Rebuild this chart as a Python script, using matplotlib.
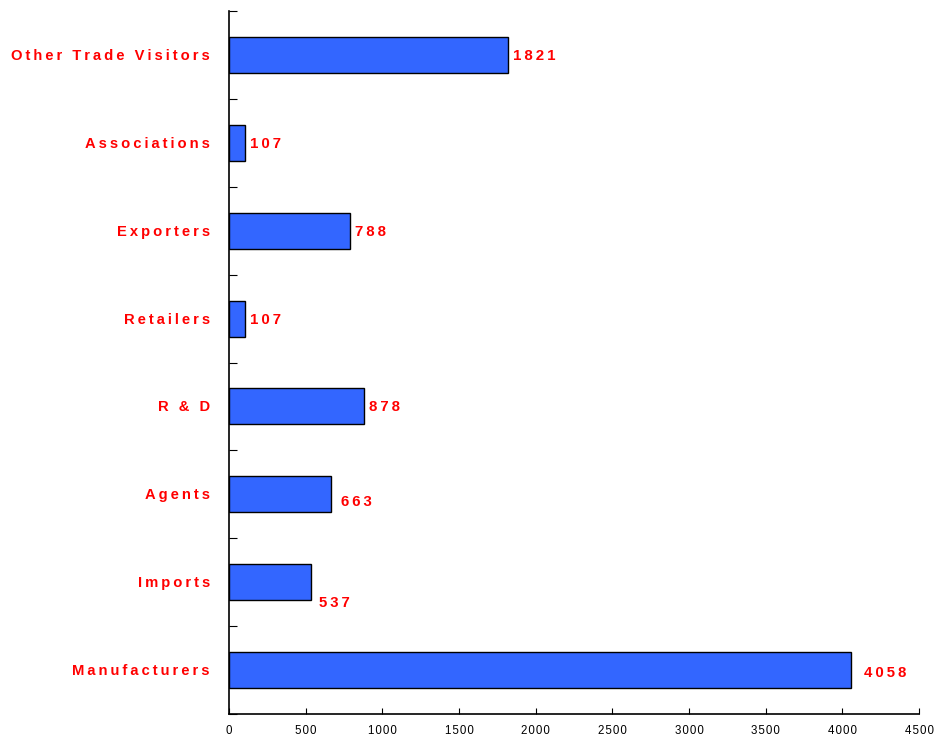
import matplotlib
matplotlib.use("Agg")
import matplotlib.pyplot as plt

categories = ["Manufacturers", "Imports", "Agents", "R & D", "Retailers",
              "Exporters", "Associations", "Other Trade Visitors"]
values = [4058, 537, 663, 878, 107, 788, 107, 1821]
xticks = [0, 500, 1000, 1500, 2000, 2500, 3000, 3500, 4000, 4500]

# label placement tweaks (pixels): (dx, dy)
label_offsets = [(13, -2), (8, -20), (10, -7), (5, 0), (5, 0), (5, 0), (5, 0), (5, 0)]

def spaced(s, sp="\u2009"):
    return sp.join(list(s))

plt.rcParams['font.family'] = ['Liberation Sans', 'DejaVu Sans']

fig = plt.figure(figsize=(9.35, 7.38), dpi=100)
ax = fig.add_axes([229/935, 1-714/738, 690/935, 703/738])

y = list(range(len(categories)))
ax.barh(y, values, height=0.41, color="#3366FF", edgecolor="black", linewidth=1.0)

ax.set_xlim(0, 4500)
ax.set_ylim(-0.5, 7.5)
ax.set_xticks(xticks)
ax.set_xticklabels([spaced(str(t), "\u200A") for t in xticks], fontsize=8.3)
ax.set_yticks([i + 0.5 for i in range(-1, 8)])
ax.set_yticklabels([])
ax.tick_params(axis='x', direction='in', length=4, pad=8)
ax.tick_params(axis='y', direction='in', length=6)
for i, c in enumerate(categories):
    ax.annotate(spaced(c), xy=(0, i), xycoords=('axes fraction', 'data'),
                xytext=(-19, -1), textcoords='offset pixels',
                ha='right', va='center', color='red', fontweight='bold', fontsize=10.6)
for i, v in enumerate(values):
    dx, dy = label_offsets[i]
    ax.annotate(spaced(str(v)), xy=(v, i), xytext=(dx, dy - 1), textcoords='offset pixels',
                ha='left', va='center', color='red', fontweight='bold', fontsize=10.8)

ax.spines['top'].set_visible(False)
ax.spines['right'].set_visible(False)
ax.spines['left'].set_linewidth(1.2)
ax.spines['bottom'].set_linewidth(1.2)

fig.savefig("out.png", dpi=100)
